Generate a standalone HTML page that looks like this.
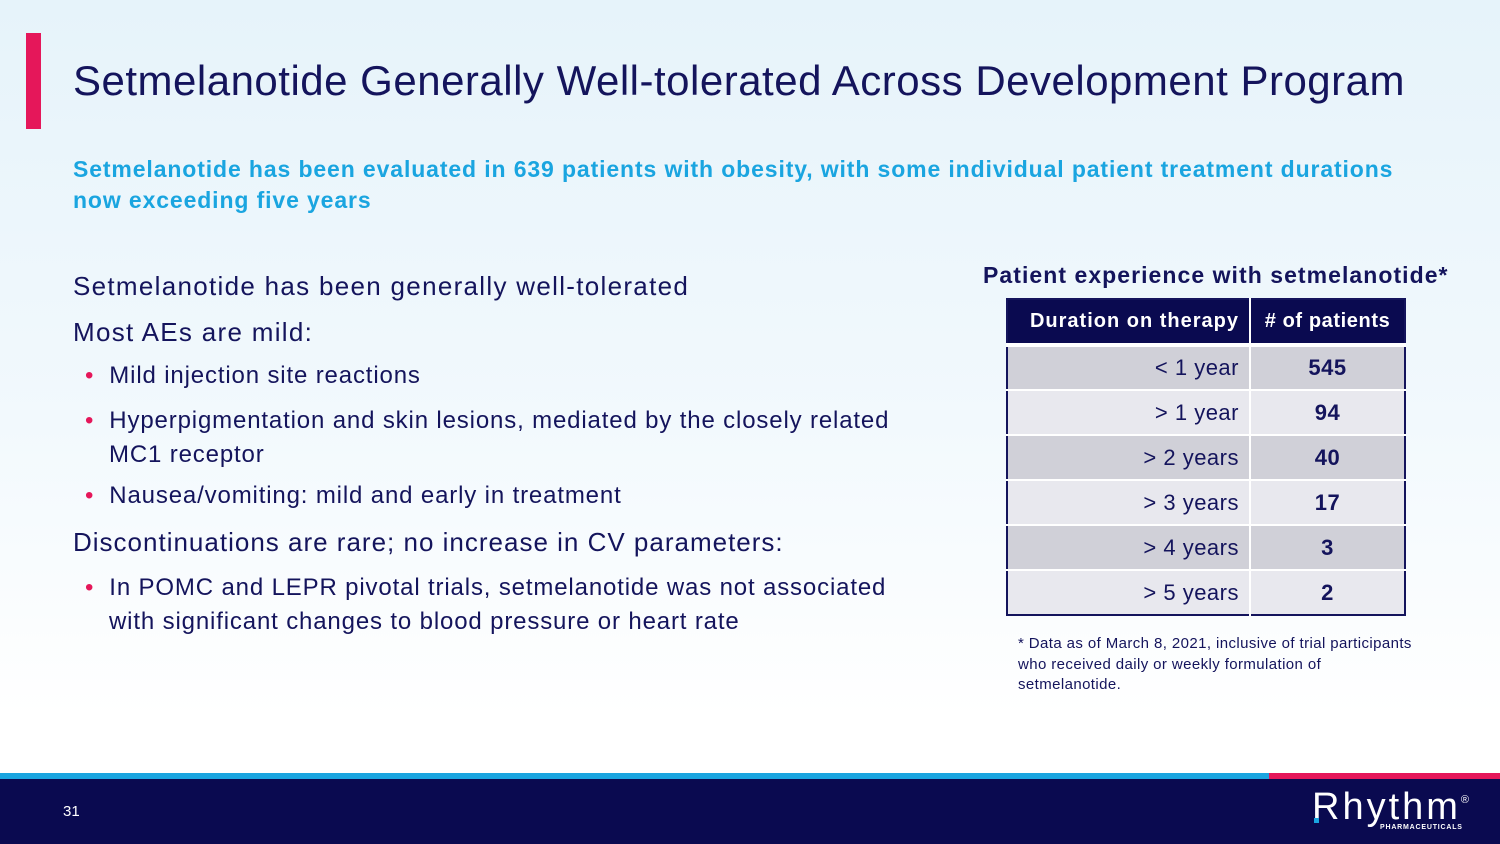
<!DOCTYPE html>
<html><head><meta charset="utf-8"><style>
*{margin:0;padding:0;box-sizing:border-box}
body{width:1500px;height:844px;overflow:hidden;font-family:"Liberation Sans",sans-serif;background:linear-gradient(#e6f3fa 0%,#f2f9fd 50%,#ffffff 85%);position:relative}
.abs{position:absolute;white-space:nowrap}
table{border-collapse:collapse}
.b{position:absolute;left:12px;font-size:24px;letter-spacing:0.85px}
</style></head><body>
<div class="abs" style="left:26px;top:33px;width:15px;height:96px;background:#e5175a"></div>
<div class="abs" style="left:73px;top:57px;font-size:42px;color:#14145c;letter-spacing:0.5px">Setmelanotide Generally Well-tolerated Across Development Program</div>
<div class="abs" style="left:73px;top:154px;font-size:23px;font-weight:bold;color:#1aa5e0;line-height:31px;letter-spacing:0.88px">Setmelanotide has been evaluated in 639 patients with obesity, with some individual patient treatment durations<br>now exceeding five years</div>
<div class="abs" style="left:73px;top:268px;color:#14145c;font-size:26px;letter-spacing:1.3px">
<div style="position:absolute;top:3px">Setmelanotide has been generally well-tolerated</div>
<div style="position:absolute;top:49px">Most AEs are mild:</div>
<div class="b" style="top:94px"><span style="color:#e5175a">•</span>&nbsp; Mild injection site reactions</div>
<div class="b" style="top:136px;line-height:34px"><span style="color:#e5175a">•</span>&nbsp; Hyperpigmentation and skin lesions, mediated by the closely related<br><span style="padding-left:24px">MC1 receptor</span></div>
<div class="b" style="top:214px"><span style="color:#e5175a">•</span>&nbsp; Nausea/vomiting: mild and early in treatment</div>
<div style="position:absolute;top:259px;letter-spacing:1.0px">Discontinuations are rare; no increase in CV parameters:</div>
<div class="b" style="top:303px;line-height:34px"><span style="color:#e5175a">•</span>&nbsp; In POMC and LEPR pivotal trials, setmelanotide was not associated<br><span style="padding-left:24px">with significant changes to blood pressure or heart rate</span></div>
</div>
<div class="abs" style="left:983px;top:262px;font-size:23px;font-weight:bold;color:#14145c;letter-spacing:1.05px">Patient experience with setmelanotide*</div>
<table class="abs" style="left:1006px;top:298px;width:400px;border:2px solid #14145c;font-size:22px;color:#14145c;letter-spacing:0.5px">
<tr style="background:#0a0a50;color:#fff;font-weight:bold;height:46px;border-bottom:4px solid #fff"><td style="text-align:right;padding-right:10px;width:243px;border-right:2px solid #fff;font-size:20px;letter-spacing:1px">Duration on therapy</td><td style="text-align:center;font-size:20px;letter-spacing:0.6px">#&nbsp;of patients</td></tr>
<tr style="background:#d0d0d8;height:45px;border-bottom:2px solid #fff"><td style="text-align:right;padding-right:10px;border-right:2px solid #fff">&lt; 1 year</td><td style="text-align:center;font-weight:bold">545</td></tr>
<tr style="background:#e8e8ee;height:45px;border-bottom:2px solid #fff"><td style="text-align:right;padding-right:10px;border-right:2px solid #fff">&gt; 1 year</td><td style="text-align:center;font-weight:bold">94</td></tr>
<tr style="background:#d0d0d8;height:45px;border-bottom:2px solid #fff"><td style="text-align:right;padding-right:10px;border-right:2px solid #fff">&gt; 2 years</td><td style="text-align:center;font-weight:bold">40</td></tr>
<tr style="background:#e8e8ee;height:45px;border-bottom:2px solid #fff"><td style="text-align:right;padding-right:10px;border-right:2px solid #fff">&gt; 3 years</td><td style="text-align:center;font-weight:bold">17</td></tr>
<tr style="background:#d0d0d8;height:45px;border-bottom:2px solid #fff"><td style="text-align:right;padding-right:10px;border-right:2px solid #fff">&gt; 4 years</td><td style="text-align:center;font-weight:bold">3</td></tr>
<tr style="background:#e8e8ee;height:45px"><td style="text-align:right;padding-right:10px;border-right:2px solid #fff">&gt; 5 years</td><td style="text-align:center;font-weight:bold">2</td></tr>
</table>
<div class="abs" style="left:1018px;top:634px;font-size:15px;line-height:20.5px;color:#14145c;letter-spacing:0.4px">* Data as of March 8, 2021, inclusive of trial participants<br>who received daily or weekly formulation of<br>setmelanotide.</div>
<div class="abs" style="left:0;top:773px;width:1269px;height:6px;background:#1aa5e0"></div>
<div class="abs" style="left:1269px;top:773px;width:231px;height:6px;background:#e5175a"></div>
<div class="abs" style="left:0;top:779px;width:1500px;height:65px;background:#0a0a50"></div>
<div class="abs" style="left:63px;top:803px;font-size:15px;color:#fff">31</div>
<div class="abs" style="left:1312px;top:786px;font-size:38px;color:#fff;letter-spacing:3px">Rhythm<sup style="font-size:11px;vertical-align:top;position:relative;top:8px">®</sup></div>
<div class="abs" style="left:1314px;top:818px;width:5px;height:5px;background:#1aa5e0"></div>
<div class="abs" style="left:1380px;top:824px;font-size:7px;color:#fff;font-weight:bold;letter-spacing:0.8px">PHARMACEUTICALS</div>
</body></html>
